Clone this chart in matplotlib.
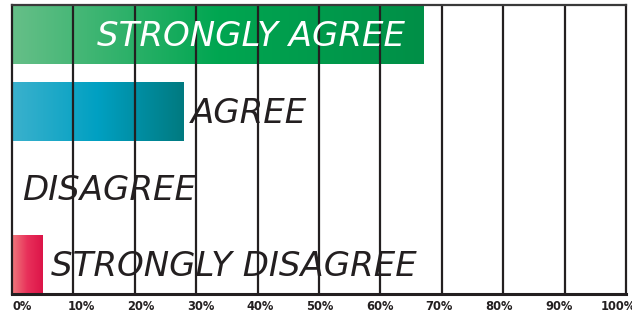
import numpy as np
import matplotlib.pyplot as plt
import matplotlib.transforms as mtransforms
from matplotlib.colors import LinearSegmentedColormap

categories = ["STRONGLY AGREE", "AGREE", "DISAGREE", "STRONGLY DISAGREE"]
values = [67, 28, 0, 5]
grid_ticks = [10, 20, 30, 40, 50, 60, 70, 80, 90]
tick_labels = ["0%", "10%", "20%", "30%", "40%", "50%", "60%", "70%", "80%", "90%", "100%"]

gradients = [
    ["#66bf88", "#00a651", "#008f47"],
    ["#3bb1cd", "#00a0c2", "#007a80"],
    ["#ffffff", "#ffffff", "#ffffff"],
    ["#f07a7c", "#e8305a", "#dc1448"],
]
text_colors = ["white", "#231f20", "#231f20", "#231f20"]
dark = "#231f20"

fig = plt.figure(figsize=(6.32, 3.13), dpi=100)
ax = fig.add_axes([12 / 632, 19 / 313, 614 / 632, 289 / 313])

h = 0.77
y = np.arange(len(categories))
bars = ax.barh(y, values, height=h, color="none", edgecolor="none")

grad = np.linspace(0, 1, 256).reshape(1, -1)
for bar, cols, v in zip(bars, gradients, values):
    if v <= 0:
        continue
    cmap = LinearSegmentedColormap.from_list("g", cols)
    x0, y0 = bar.get_x(), bar.get_y()
    im = ax.imshow(grad, cmap=cmap, aspect="auto", interpolation="bicubic",
                   extent=[x0, x0 + bar.get_width(), y0 + bar.get_height(), y0], zorder=1)
    im.set_clip_path(bar)

ax.set_xlim(0, 100)
ax.set_ylim(len(categories) - 1 + h / 2, -h / 2)

for t in grid_ticks:
    ax.axvline(t, color=dark, lw=1.6, zorder=2)

for s in ax.spines.values():
    s.set_color(dark)
    s.set_linewidth(1.6)
    s.set_zorder(3)
ax.spines["bottom"].set_linewidth(2.2)
ax.spines["top"].set_color("#3a3a3a")

# the percent labels are spaced a little tighter than the grid in the original
label_pos = [1.63 + 9.71 * i for i in range(len(tick_labels))]
ax.set_xticks(label_pos)
ax.set_xticklabels(tick_labels, fontsize=8.3, fontweight="bold", color=dark)
ax.tick_params(axis="x", length=0, pad=4)
ax.set_yticks([])

label_x = [13.8, 29.2, 1.6, 6.3]
for i, (cat, lx) in enumerate(zip(categories, label_x)):
    ax.text(lx, i + 0.03, cat, fontsize=24.5, style="italic", family="DejaVu Sans",
            color=text_colors[i], va="center", ha="left", zorder=4)

fig.savefig("out.png", dpi=100)
